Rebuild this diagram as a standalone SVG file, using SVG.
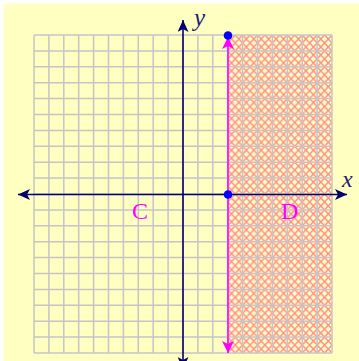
<svg xmlns="http://www.w3.org/2000/svg" width="359" height="361" viewBox="0 0 359 361">
<style>
.grid line{stroke:#c6c4c8;stroke-width:1.5}
.axis{stroke:#00006e;stroke-width:1.6;fill:none}
.bound{stroke:#ff00ff;stroke-width:1.6;fill:none}
.pt{fill:#0000ff}
.lab{font-family:"Liberation Serif","Times New Roman",serif;font-size:24px;fill:#ff00ff}
.axlab{font-family:"Liberation Serif","Times New Roman",serif;font-style:italic;fill:#1c1c78}
</style>
<defs>
<pattern id="hatch" patternUnits="userSpaceOnUse" x="34" y="35" width="14.9" height="15.9">
<path d="M0,0 L14.9,15.9 M14.9,0 L0,15.9 M0,7.95 L7.45,0 L14.9,7.95 L7.45,15.9 Z" stroke="#ff8a8a" stroke-width="1.4" fill="none"/>
</pattern>
<marker id="navyArrow" viewBox="0 0 12 11" refX="12" refY="5.5" markerWidth="12" markerHeight="11" markerUnits="userSpaceOnUse" orient="auto-start-reverse">
<path d="M12,5.5 L0,0 L3,5.5 L0,11 Z" fill="#00006e"/>
</marker>
<marker id="magArrow" viewBox="0 0 12 12" refX="12" refY="6" markerWidth="12" markerHeight="13" markerUnits="userSpaceOnUse" orient="auto-start-reverse">
<path d="M12,6 L0,0 L3,6 L0,12 Z" fill="#ff00ff"/>
</marker>
</defs>
<rect id="background" x="3.5" y="3.5" width="356" height="358" fill="#ffffc2"/>
<rect id="regionD" x="228" y="35" width="104" height="318" fill="url(#hatch)"/>
<g id="grid" class="grid">
<line x1="34" y1="35" x2="34" y2="353"/>
<line x1="48.9" y1="35" x2="48.9" y2="353"/>
<line x1="63.8" y1="35" x2="63.8" y2="353"/>
<line x1="78.7" y1="35" x2="78.7" y2="353"/>
<line x1="93.6" y1="35" x2="93.6" y2="353"/>
<line x1="108.5" y1="35" x2="108.5" y2="353"/>
<line x1="123.4" y1="35" x2="123.4" y2="353"/>
<line x1="138.3" y1="35" x2="138.3" y2="353"/>
<line x1="153.2" y1="35" x2="153.2" y2="353"/>
<line x1="168.1" y1="35" x2="168.1" y2="353"/>
<line x1="183" y1="35" x2="183" y2="353"/>
<line x1="197.9" y1="35" x2="197.9" y2="353"/>
<line x1="212.8" y1="35" x2="212.8" y2="353"/>
<line x1="227.7" y1="35" x2="227.7" y2="353"/>
<line x1="242.6" y1="35" x2="242.6" y2="353"/>
<line x1="257.5" y1="35" x2="257.5" y2="353"/>
<line x1="272.4" y1="35" x2="272.4" y2="353"/>
<line x1="287.3" y1="35" x2="287.3" y2="353"/>
<line x1="302.2" y1="35" x2="302.2" y2="353"/>
<line x1="317.1" y1="35" x2="317.1" y2="353"/>
<line x1="332" y1="35" x2="332" y2="353"/>
<line x1="34" y1="35" x2="332" y2="35"/>
<line x1="34" y1="50.9" x2="332" y2="50.9"/>
<line x1="34" y1="66.8" x2="332" y2="66.8"/>
<line x1="34" y1="82.7" x2="332" y2="82.7"/>
<line x1="34" y1="98.6" x2="332" y2="98.6"/>
<line x1="34" y1="114.5" x2="332" y2="114.5"/>
<line x1="34" y1="130.4" x2="332" y2="130.4"/>
<line x1="34" y1="146.3" x2="332" y2="146.3"/>
<line x1="34" y1="162.2" x2="332" y2="162.2"/>
<line x1="34" y1="178.1" x2="332" y2="178.1"/>
<line x1="34" y1="194" x2="332" y2="194"/>
<line x1="34" y1="209.9" x2="332" y2="209.9"/>
<line x1="34" y1="225.8" x2="332" y2="225.8"/>
<line x1="34" y1="241.7" x2="332" y2="241.7"/>
<line x1="34" y1="257.6" x2="332" y2="257.6"/>
<line x1="34" y1="273.5" x2="332" y2="273.5"/>
<line x1="34" y1="289.4" x2="332" y2="289.4"/>
<line x1="34" y1="305.3" x2="332" y2="305.3"/>
<line x1="34" y1="321.2" x2="332" y2="321.2"/>
<line x1="34" y1="337.1" x2="332" y2="337.1"/>
<line x1="34" y1="353" x2="332" y2="353"/>
</g>
<g id="connectors">
<line id="x-axis" class="axis" x1="18" y1="194.5" x2="347" y2="194.5" marker-start="url(#navyArrow)" marker-end="url(#navyArrow)"/>
<line id="y-axis" class="axis" x1="183" y1="20" x2="183" y2="369" marker-start="url(#navyArrow)" marker-end="url(#navyArrow)"/>
<line id="boundary" class="bound" x1="228" y1="37" x2="228" y2="353" marker-start="url(#magArrow)" marker-end="url(#magArrow)"/>
</g>
<g id="point-top"><circle class="pt" cx="228" cy="35.5" r="4.3"/></g>
<g id="point-axis"><circle class="pt" cx="228" cy="194.5" r="4.3"/></g>
<g id="label-y"><text class="axlab" x="194" y="26" font-size="25">y</text></g>
<g id="label-x"><text class="axlab" x="342" y="187" font-size="24">x</text></g>
<g id="label-C"><text class="lab" x="132" y="218.5">C</text></g>
<g id="label-D"><text class="lab" x="281" y="218.5">D</text></g>
</svg>
